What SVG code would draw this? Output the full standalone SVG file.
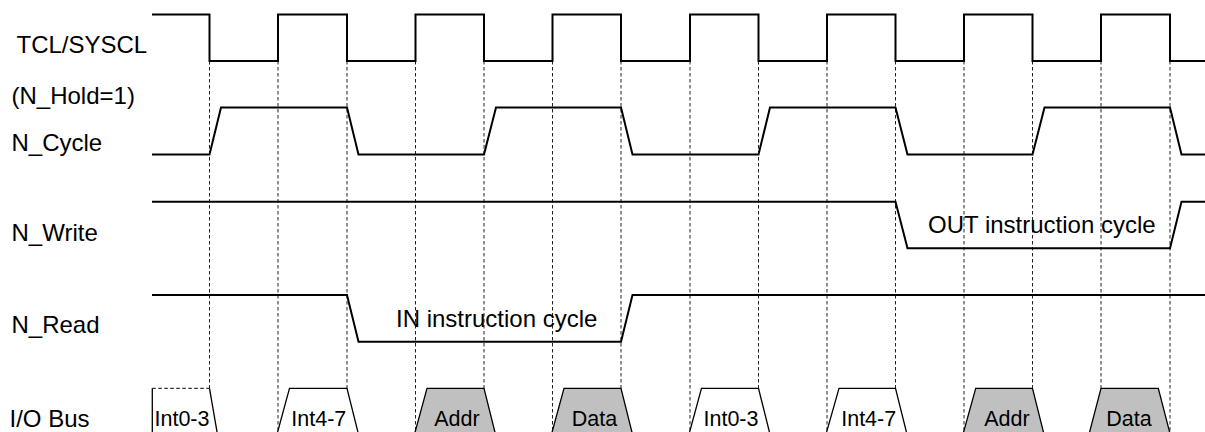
<svg xmlns="http://www.w3.org/2000/svg" width="1205" height="432" viewBox="0 0 1205 432">
  <style>
    .sig { fill: none; stroke: #000; stroke-width: 2; stroke-linejoin: miter; }
    .guide { fill: none; stroke: #222; stroke-width: 1; stroke-dasharray: 3.5 2.5; }
    .lbl { font-family: "Liberation Sans", Arial, Helvetica, sans-serif; font-size: 24px; fill: #000; }
    .bus-lbl { font-family: "Liberation Sans", Arial, Helvetica, sans-serif; font-size: 21.5px; fill: #000; text-anchor: middle; }
    .bus-int { fill: #fff; stroke: #000; stroke-width: 1.3; }
    .bus-dat { fill: #c0c0c0; stroke: #000; stroke-width: 1.3; }
  </style>

  <rect x="0" y="0" width="1205" height="432" fill="#fff"/>

  <!-- dashed guides at every clock edge -->
  <g id="connectors" class="guide">
    <path d="M209.5,61 V432 M278,61 V432 M347,61 V432 M415.5,61 V432 M484,61 V432 M552.5,61 V432 M621,61 V432 M690,61 V432 M758.5,61 V432 M827,61 V432 M895.5,61 V432 M964,61 V432 M1032.5,61 V432 M1101,61 V432 M1170,61 V432"/>
  </g>

  <!-- row labels -->
  <g id="labels">
    <text class="lbl" x="16.5" y="53.3">TCL/SYSCL</text>
    <text class="lbl" x="11.5" y="104">(N_Hold=1)</text>
    <text class="lbl" x="11.5" y="151">N_Cycle</text>
    <text class="lbl" x="11.5" y="240.7">N_Write</text>
    <text class="lbl" x="11.5" y="333.3">N_Read</text>
    <text class="lbl" x="9.5" y="426.7">I/O Bus</text>
  </g>

  <!-- clock -->
  <g id="clock">
    <path class="sig" d="M152,14.5 H209.5 V61 H278 V14.5 H347 V61 H415.5 V14.5 H484 V61 H552.5 V14.5 H621 V61 H690 V14.5 H758.5 V61 H827 V14.5 H895.5 V61 H964 V14.5 H1032.5 V61 H1101 V14.5 H1170 V61 H1205"/>
  </g>

  <!-- N_Cycle -->
  <g id="n-cycle">
    <path class="sig" d="M152,154.5 H209.5 L221,107.5 H347 L358.5,154.5 H484 L496,107.5 H621 L632.5,154.5 H758.5 L770,107.5 H895.5 L907.5,154.5 H1032.5 L1044.5,107.5 H1170 L1181.5,154.5 H1205"/>
  </g>

  <!-- N_Write -->
  <g id="n-write">
    <path class="sig" d="M152,201.7 H895.5 L907.5,248.3 H1170 L1181.5,201.7 H1205"/>
    <text class="lbl" x="928" y="233.3">OUT instruction cycle</text>
  </g>

  <!-- N_Read -->
  <g id="n-read">
    <path class="sig" d="M152,295 H347 L358.5,341.7 H621 L632.5,295 H1205"/>
    <text class="lbl" x="396" y="326.7">IN instruction cycle</text>
  </g>

  <!-- I/O bus phases -->
  <g id="io-bus">
    <g id="bus-int03-a">
      <polygon points="152.3,434 152.3,388.3 209.5,388.3 217.4,434" fill="#fff" stroke="none"/>
      <path d="M152.3,434 V388.3" fill="none" stroke="#000" stroke-width="1.3"/>
      <path d="M152.3,388.3 H209.5" fill="none" stroke="#000" stroke-width="1" stroke-dasharray="3.5 2.5"/>
      <path d="M209.5,388.3 L217.4,434" fill="none" stroke="#000" stroke-width="1.3"/>
      <text class="bus-lbl" x="182" y="425.5">Int0-3</text>
    </g>
    <g id="bus-int47-a">
      <polygon class="bus-int" points="277.2,433.5 289.5,388.3 347,388.3 358.3,433.5"/>
      <text class="bus-lbl" x="318.8" y="425.5">Int4-7</text>
    </g>
    <g id="bus-addr-a">
      <polygon class="bus-dat" points="414.7,433.5 427,388.3 484,388.3 495.3,433.5"/>
      <text class="bus-lbl" x="457" y="425.5">Addr</text>
    </g>
    <g id="bus-data-a">
      <polygon class="bus-dat" points="551.7,433.5 564,388.3 621,388.3 632.3,433.5"/>
      <text class="bus-lbl" x="594.5" y="425.5">Data</text>
    </g>
    <g id="bus-int03-b">
      <polygon class="bus-int" points="689.2,433.5 701.5,388.3 758.5,388.3 769.8,433.5"/>
      <text class="bus-lbl" x="731" y="425.5">Int0-3</text>
    </g>
    <g id="bus-int47-b">
      <polygon class="bus-int" points="826.2,433.5 839,388.3 895.5,388.3 906.8,433.5"/>
      <text class="bus-lbl" x="868.7" y="425.5">Int4-7</text>
    </g>
    <g id="bus-addr-b">
      <polygon class="bus-dat" points="963.2,433.5 975.7,388.3 1032.5,388.3 1043.8,433.5"/>
      <text class="bus-lbl" x="1007" y="425.5">Addr</text>
    </g>
    <g id="bus-data-b">
      <polygon class="bus-dat" points="1089.2,433.5 1101,388.3 1158.3,388.3 1170,433.5"/>
      <text class="bus-lbl" x="1129" y="425.5">Data</text>
    </g>
  </g>
</svg>
